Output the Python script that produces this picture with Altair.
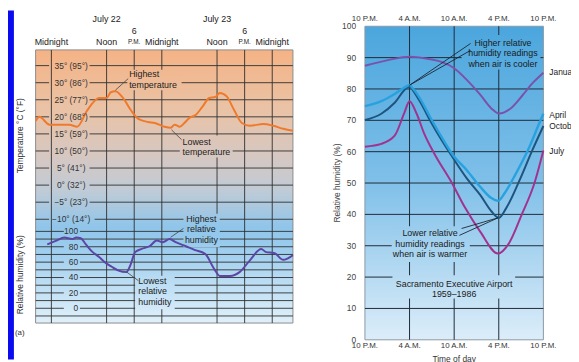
import altair as alt
import pandas as pd

FONT = "Liberation Sans"

# ---------------- data: panel (a), July 22-23 (hours after midnight of July 21/22) ----------------
temp_hours = [-3.4, -2.6, -0.4, 3.9, 5.6, 7.7, 9.6, 10.3, 12.0, 12.9, 13.9, 15.6, 17.4, 18.9, 21.0,
              22.5, 24.6, 25.9, 26.8, 27.9, 28.9, 30.0, 31.3, 32.8, 34.3, 35.6, 36.6, 38.1, 39.6, 41.4,
              43.1, 46.1, 48.2, 50.4, 52.5]
temp_c = [18.8, 20.0, 17.7, 17.7, 17.1, 21.7, 24.9, 25.5, 25.5, 27.2, 27.5, 25.5, 21.7, 19.4, 18.5,
          18.2, 17.1, 16.8, 17.7, 17.1, 18.2, 19.7, 20.5, 22.9, 25.5, 25.8, 27.0, 26.0, 22.3, 18.2,
          17.4, 17.9, 17.4, 16.5, 15.9]
hum_hours = [-0.9, 1.1, 2.8, 4.5, 5.4, 6.4, 7.5, 8.8, 10.3, 11.8, 13.1, 14.6, 16.3, 17.1, 18.2,
             19.5, 21.4, 22.9, 24.2, 25.7, 27.0, 29.1, 31.1, 33.4, 35.4, 36.6, 38.8, 40.9, 43.1, 45.6,
             46.7, 48.4, 50.4, 51.4, 52.5]
hum_pct = [83, 88, 92, 90, 92, 91, 83, 74, 67, 59, 54, 49, 47, 55, 73,
           77, 81, 88, 86, 90, 86, 81, 76, 71, 51, 42, 42, 47, 62, 77,
           73, 72, 63, 65, 69]

temp_ticks = [35, 30, 25, 20, 15, 10, 5, 0, -5, -10]
temp_labels = ["35° (95°)", "30° (86°)", "25° (77°)", "20° (68°)", "15° (59°)", "10° (50°)",
               "5° (41°)", "0° (32°)", "−5° (23°)", "−10° (14°)"]
hum_ticks = [100, 80, 60, 40, 20, 0]
hum_minor = [90, 70, 50, 30, 10, -10]
left_vgrid = [0, 12, 18, 24, 36, 42, 48]
left_time_hours = [0, 12, 24, 36, 48]
left_time_labels = ["Midnight", "Noon", "Midnight", "Noon", "Midnight"]
pm_hours = [18, 42]
date_hours = [12, 36]
date_labels = ["July 22", "July 23"]

# ---------------- data: Sacramento Executive Airport, hours after 10 P.M. ----------------
jan_h = [0, 3.1, 6, 8.8, 10.2, 12, 13.7, 15.5, 17, 18, 19.5, 21.2, 22.6, 24]
jan_v = [87.4, 89.2, 90.3, 89.5, 88.7, 86.6, 82.9, 78.2, 73.8, 72.2, 73.6, 78.0, 82.0, 85.2]
apr_h = [0, 2.2, 4, 5.7, 6, 6.4, 7.5, 8.8, 10.2, 11.9, 13.7, 15.5, 17, 17.9, 18.8, 20.3, 22.1, 23.4, 24]
apr_v = [74.5, 76.1, 78.4, 81.0, 81.3, 80.3, 76.6, 70.9, 65.1, 58.7, 54.1, 48.8, 45.2, 44.3, 46.8,
         53.0, 61.4, 68.8, 72.1]
oct_h = [0, 2.2, 4, 5.7, 6.1, 6.4, 7.5, 8.8, 10.2, 11.9, 13.7, 15.5, 17.0, 18.0, 19.0, 20.8, 22.5, 24]
oct_v = [70.1, 72.1, 75.6, 80.5, 80.8, 79.8, 75.6, 69.8, 64.1, 57.8, 51.5, 46.2, 41.0, 38.9, 42.0,
         50.9, 60.4, 68.2]
jul_h = [0, 2.2, 4, 5.3, 6, 6.9, 8, 9.3, 11.7, 13.5, 15.5, 17.9, 19.3, 21.1, 22.8, 24]
jul_v = [61.6, 62.5, 65.1, 72.4, 76.1, 72.4, 65.6, 59.5, 50.0, 42.0, 34.5, 27.5, 30.5, 40.0, 50.0, 60.4]

right_ticks = list(range(0, 101, 10))
right_time_hours = [0, 6, 12, 18, 24]
right_time_labels = ["10 P.M.", "4 A.M.", "10 A.M.", "4 P.M.", "10 P.M."]
month_names = ["January", "April", "October", "July"]
month_label_v = [85.5, 71.6, 68.2, 60.1]

# ---------------- scales (each layer owns its scale) ----------------
L_DOM = [-3.43, 52.5]
T_DOM = [-40.4, 39.6]
H_DOM = [-19.2, 336.0]
LX = alt.Scale(domain=L_DOM, range=[28, 289], nice=False, zero=False)
LT = alt.Scale(domain=T_DOM, range=[317, 40], nice=False, zero=False)
LH = alt.Scale(domain=H_DOM, range=[317, 40], nice=False, zero=False)
RX = alt.Scale(domain=[0, 24], range=[362, 543], nice=False, zero=False)
RY = alt.Scale(domain=[0, 100], range=[334, 16], nice=False, zero=False)

L_STOPS = [(0.0, "#f5b385"), (0.224, "#e9c3a7"), (0.404, "#d4c8c4"), (0.513, "#c0cbd6"),
           (0.65, "#8fc5ea"), (0.729, "#9dcdee"), (1.0, "#e0f0fa")]
R_STOPS = [(0.0, "#4ba6dd"), (0.5, "#80c0e9"), (1.0, "#dcedf9")]


def hex2rgb(h):
    return tuple(int(h[i:i + 2], 16) for i in (1, 3, 5))


def color_at(stops, f):
    f = min(max(f, 0.0), 1.0)
    for (o0, c0), (o1, c1) in zip(stops, stops[1:]):
        if f <= o1:
            t = (f - o0) / (o1 - o0) if o1 > o0 else 0
            a, b = hex2rgb(c0), hex2rgb(c1)
            return "#%02x%02x%02x" % tuple(round(a[i] + (b[i] - a[i]) * t) for i in range(3))
    return stops[-1][1]


def grad(stops):
    return alt.Gradient(gradient="linear", x1=0, x2=0, y1=0, y2=1,
                        stops=[alt.GradientStop(offset=o, color=c) for o, c in stops])


def sub_grad(stops, f_top, f_bot, n=6):
    return grad([(i / (n - 1), color_at(stops, f_top + (f_bot - f_top) * i / (n - 1))) for i in range(n)])


frac_T = lambda t: (T_DOM[1] - t) / (T_DOM[1] - T_DOM[0])
frac_H = lambda h: (H_DOM[1] - h) / (H_DOM[1] - H_DOM[0])
frac_V = lambda v: (100 - v) / 100


def xq(f, s):
    return alt.X(f"{f}:Q", scale=s, axis=None)


def yq(f, s):
    return alt.Y(f"{f}:Q", scale=s, axis=None)


def rect(x0, x1, y0, y1, sx, sy, **kw):
    df = pd.DataFrame({"x0": [x0], "x1": [x1], "y0": [y0], "y1": [y1]})
    return alt.Chart(df).mark_rect(**kw).encode(x=xq("x0", sx), x2="x1", y=yq("y0", sy), y2="y1")


def segs(rows, sx, sy, **kw):
    df = pd.DataFrame(rows, columns=["x0", "x1", "y0", "y1"])
    return alt.Chart(df).mark_rule(**kw).encode(x=xq("x0", sx), x2="x1", y=yq("y0", sy), y2="y1")


def line(hs, vs, sx, sy, **kw):
    df = pd.DataFrame({"h": hs, "v": vs})
    return alt.Chart(df).mark_line(interpolate="monotone", **kw).encode(x=xq("h", sx), y=yq("v", sy), order="h:Q")


def text_xy(hs, vs, labels, sx, sy, **kw):
    df = pd.DataFrame({"h": hs, "v": vs, "t": labels})
    return alt.Chart(df).mark_text(font=FONT, **kw).encode(x=xq("h", sx), y=yq("v", sy), text="t:N")


def text_x(hs, labels, ypix, sx, **kw):
    df = pd.DataFrame({"h": hs, "t": labels})
    return alt.Chart(df).mark_text(font=FONT, **kw).encode(x=xq("h", sx), y=alt.value(ypix), text="t:N")


def text_y(vs, labels, xpix, sy, **kw):
    df = pd.DataFrame({"v": vs, "t": labels})
    return alt.Chart(df).mark_text(font=FONT, **kw).encode(x=alt.value(xpix), y=yq("v", sy), text="t:N")


def text_px(label, xpix, ypix, **kw):
    df = pd.DataFrame({"t": [label]})
    return alt.Chart(df).mark_text(font=FONT, **kw).encode(x=alt.value(xpix), y=alt.value(ypix), text="t:N")


layers = []

# slide border strip
layers.append(alt.Chart(pd.DataFrame({"a": [0]})).mark_rect(color="#0b0bef").encode(
    x=alt.value(0), x2=alt.value(6), y=alt.value(0), y2=alt.value(354)))

# ---------------- left panel ----------------
layers.append(rect(L_DOM[0], L_DOM[1], T_DOM[0], T_DOM[1], LX, LT,
                   fill=grad(L_STOPS), stroke="#8c8c8c", strokeWidth=1))
GRID_L = dict(color="#2e2e2e", strokeWidth=0.9)
trows = []
for t in temp_ticks:
    trows.append((L_DOM[0], -0.5, t, t))
    trows.append((9.4 if t == -10 else 8.3, L_DOM[1], t, t))
layers.append(segs(trows, LX, LT, **GRID_L))
hrows = []
for h in hum_ticks:
    hrows.append((L_DOM[0], 2.7, h, h))
    hrows.append((6.2, L_DOM[1], h, h))
for h in hum_minor:
    hrows.append((L_DOM[0], L_DOM[1], h, h))
layers.append(segs(hrows, LX, LH, **GRID_L))
layers.append(segs([(h, h, T_DOM[0], T_DOM[1]) for h in left_vgrid], LX, LT, **GRID_L))

# label boxes (background-matched)
for (x0, x1, y0, y1) in [(16.5, 28.3, 27.8, 33.8), (27.9, 39.4, 8.1, 14.5)]:
    layers.append(rect(x0, x1, y0, y1, LX, LT, fill=sub_grad(L_STOPS, frac_T(y1), frac_T(y0))))
for (x0, x1, y0, y1) in [(28.7, 36.6, 79.5, 123.0), (18.2, 26.8, -1.3, 42.3)]:
    layers.append(rect(x0, x1, y0, y1, LX, LH, fill=sub_grad(L_STOPS, frac_H(y1), frac_H(y0))))

layers.append(line(temp_hours, temp_c, LX, LT, color="#f07a2c", strokeWidth=2))
layers.append(line(hum_hours, hum_pct, LX, LH, color="#5b46a6", strokeWidth=2))

LEAD_L = dict(color="#444444", strokeWidth=0.8)
layers.append(segs([(13.9, 16.7, 27.8, 31.2), (26.1, 28.3, 16.2, 13.3)], LX, LT, **LEAD_L))
layers.append(segs([(25.9, 28.7, 92.3, 103.8), (16.3, 18.9, 47.4, 35.9)], LX, LH, **LEAD_L))

LAB = dict(fontSize=8.5, color="#333333")
layers.append(text_xy([4.3] * len(temp_ticks), temp_ticks, temp_labels, LX, LT,
                      align="center", baseline="middle", **LAB))
layers.append(text_xy([5.8] * len(hum_ticks), hum_ticks, [str(h) for h in hum_ticks], LX, LH,
                      align="right", baseline="middle", **LAB))

ANN = dict(fontSize=9, color="#222222", lineBreak="\n", lineHeight=11, baseline="top")
layers.append(text_xy([16.9], [33.6], ["Highest\ntemperature"], LX, LT, align="left", **ANN))
layers.append(text_xy([28.5], [13.9], ["Lowest\ntemperature"], LX, LT, align="left", **ANN))
layers.append(text_xy([32.6], [121.8], ["Highest\nrelative\nhumidity"], LX, LH, align="center", **ANN))
layers.append(text_xy([18.9], [41.0], ["Lowest\nrelative\nhumidity"], LX, LH, align="left", **ANN))

TOP = dict(fontSize=9, color="#222222", align="center", baseline="middle")
layers.append(text_x(date_hours, date_labels, 9, LX, **TOP))
layers.append(text_x(pm_hours, ["6"] * len(pm_hours), 21, LX, **TOP))
layers.append(text_x(left_time_hours, left_time_labels, 32, LX, **TOP))
layers.append(text_x(pm_hours, ["P.M."] * len(pm_hours), 32.5, LX, fontSize=6.5, color="#222222",
                     align="center", baseline="middle"))

layers.append(text_px("Temperature °C (°F)", 12, 127, angle=270, fontSize=8.5, color="#333333",
                      align="center", baseline="middle"))
layers.append(text_px("Relative humidity (%)", 12, 268, angle=270, fontSize=8.5, color="#333333",
                      align="center", baseline="middle"))
layers.append(text_px("(a)", 7, 327, fontSize=8, color="#333333", align="left", baseline="middle"))

# ---------------- right panel ----------------
layers.append(rect(0, 24, 0, 100, RX, RY, fill=grad(R_STOPS), stroke="#8a98a6", strokeWidth=1))
GRID_R = dict(color="#1e2b38", strokeWidth=1)
layers.append(segs([(0, 24, v, v) for v in right_ticks[1:-1]], RX, RY, **GRID_R))
layers.append(segs([(h, h, 0, 100) for h in right_time_hours[1:-1]], RX, RY, **GRID_R))

for (x0, x1, y0, y1) in [(13.0, 23.6, 86.2, 97.2), (3.6, 14.1, 24.8, 36.2), (3.7, 20.2, 13.2, 20.6)]:
    layers.append(rect(x0, x1, y0, y1, RX, RY, fill=sub_grad(R_STOPS, frac_V(y1), frac_V(y0))))

layers.append(line(jan_h, jan_v, RX, RY, color="#7b52ab", strokeWidth=2))
layers.append(line(jul_h, jul_v, RX, RY, color="#a0338f", strokeWidth=2))
layers.append(line(oct_h, oct_v, RX, RY, color="#1d547f", strokeWidth=2))
layers.append(line(apr_h, apr_v, RX, RY, color="#27a2df", strokeWidth=2.4))

LEAD_R = dict(color="#1a2530", strokeWidth=0.9)
layers.append(segs([(6.0, 14.2, 81.2, 94.5), (6.0, 14.2, 81.2, 92.3),
                    (13.0, 17.9, 35.5, 38.9), (12.7, 17.9, 33.3, 38.9)], RX, RY, **LEAD_R))

ANN_R = dict(fontSize=9, color="#1a1a1a", lineBreak="\n", lineHeight=10.5, baseline="top", align="center")
layers.append(text_xy([18.56], [95.9], ["Higher relative\nhumidity readings\nwhen air is cooler"], RX, RY, **ANN_R))
layers.append(text_xy([8.75], [35.2], ["Lower relative\nhumidity readings\nwhen air is warmer"], RX, RY, **ANN_R))
layers.append(text_xy([12.0], [19.2], ["Sacramento Executive Airport\n1959–1986"], RX, RY, **ANN_R))

layers.append(text_y(right_ticks, [str(v) for v in right_ticks], 353, RY, fontSize=8.5, color="#444444",
                     align="right", baseline="middle"))
layers.append(text_x(right_time_hours, right_time_labels, 9, RX, fontSize=8, color="#333333",
                     align="center", baseline="middle"))
layers.append(text_x(right_time_hours, right_time_labels, 340, RX, fontSize=8, color="#333333",
                     align="center", baseline="middle"))
layers.append(text_x([12], ["Time of day"], 350, RX, fontSize=8.5, color="#333333",
                     align="center", baseline="top"))
layers.append(text_px("Relative humidity (%)", 334, 175, angle=270, fontSize=8.5, color="#444444",
                      align="center", baseline="middle"))
layers.append(text_xy([24] * len(month_names), month_label_v, month_names, RX, RY, dx=6,
                      fontSize=8.5, color="#222222", align="left", baseline="middle"))

chart = alt.layer(*layers).resolve_scale(x="independent", y="independent").properties(
    width=571, height=354, autosize=alt.AutoSizeParams(type="none"), padding=0, background="white"
).configure_view(stroke=None)

chart.save("out.html", embed_options={"renderer": "svg", "actions": False})
